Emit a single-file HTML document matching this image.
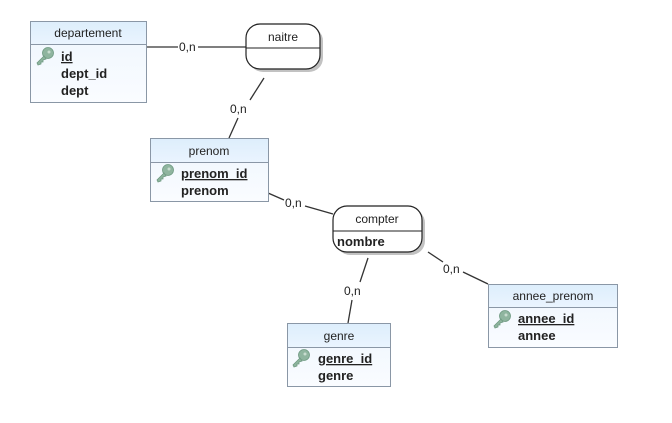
<!DOCTYPE html>
<html><head><style>body{margin:0;background:#fff}svg{display:block}</style></head><body>
<svg width="672" height="423" viewBox="0 0 672 423" xmlns="http://www.w3.org/2000/svg" font-family="Liberation Sans, Arial, sans-serif">
<defs>
<linearGradient id="hd" x1="0" y1="0" x2="0" y2="1"><stop offset="0" stop-color="#ddeefc"/><stop offset="1" stop-color="#eaf4fe"/></linearGradient>
<linearGradient id="bd" x1="0" y1="0" x2="0" y2="1"><stop offset="0" stop-color="#eef6fe"/><stop offset="1" stop-color="#fafcff"/></linearGradient>
<g id="key"><circle cx="12" cy="5" r="5.5" fill="#8fb59f" stroke="#6f9a82" stroke-width="0.8"/><circle cx="13" cy="4" r="1.5" fill="#c8dccf"/><path d="M8 8 L1 15 L2 17 L5 16 L5 14 L7 14 L7 12 L10 11 Z" fill="#8fb59f" stroke="#6f9a82" stroke-width="0.8"/></g>
</defs>
<g stroke="#333" stroke-width="1.3" fill="none">
<line x1="146" y1="47" x2="178" y2="47"/><line x1="198" y1="47" x2="246" y2="47"/>
<line x1="264" y1="78" x2="250" y2="100"/><line x1="238" y1="118" x2="229" y2="138"/>
<line x1="268" y1="193" x2="284" y2="200"/><line x1="305" y1="206" x2="333" y2="214"/>
<line x1="368" y1="258" x2="360" y2="282"/><line x1="352" y1="300" x2="348" y2="323"/>
<line x1="428" y1="252" x2="443" y2="262"/><line x1="463" y1="272" x2="488" y2="284"/>
</g>
<g font-size="12" fill="#222">
<text x="179" y="51">0,n</text><text x="230" y="113">0,n</text><text x="285" y="207">0,n</text>
<text x="344" y="295">0,n</text><text x="443" y="273">0,n</text>
</g>
<!-- naitre -->
<rect x="249" y="27" width="74" height="45" rx="14" fill="#999" opacity="0.6"/>
<rect x="246" y="24" width="74" height="45" rx="14" fill="#fff" stroke="#222" stroke-width="1.2"/>
<line x1="246" y1="48" x2="320" y2="48" stroke="#222"/>
<text x="283" y="41" font-size="12" text-anchor="middle" fill="#222">naitre</text>
<!-- compter -->
<rect x="336" y="209" width="89" height="46" rx="14" fill="#999" opacity="0.6"/>
<rect x="333" y="206" width="89" height="46" rx="14" fill="#fff" stroke="#222" stroke-width="1.2"/>
<line x1="333" y1="231" x2="422" y2="231" stroke="#222"/>
<text x="377" y="223" font-size="12" text-anchor="middle" fill="#222">compter</text>
<text x="337" y="246" font-size="13" font-weight="bold" fill="#222">nombre</text>
<!-- departement -->
<rect x="30.5" y="21.5" width="116" height="81" fill="url(#bd)" stroke="#8a97a6"/>
<rect x="30.5" y="21.5" width="116" height="23" fill="url(#hd)" stroke="#8a97a6"/>
<text x="88" y="37" font-size="12" text-anchor="middle" fill="#222">departement</text>
<use href="#key" x="36" y="48"/>
<g font-size="13" font-weight="bold" fill="#222"><text x="61" y="61" text-decoration="underline">id</text><text x="61" y="78">dept_id</text><text x="61" y="95">dept</text></g>
<!-- prenom -->
<rect x="150.5" y="138.5" width="118" height="63" fill="url(#bd)" stroke="#8a97a6"/>
<rect x="150.5" y="138.5" width="118" height="24" fill="url(#hd)" stroke="#8a97a6"/>
<text x="209" y="155" font-size="12" text-anchor="middle" fill="#222">prenom</text>
<use href="#key" x="156" y="165"/>
<g font-size="13" font-weight="bold" fill="#222"><text x="181" y="178" text-decoration="underline">prenom_id</text><text x="181" y="195">prenom</text></g>
<!-- genre -->
<rect x="287.5" y="323.5" width="103" height="63" fill="url(#bd)" stroke="#8a97a6"/>
<rect x="287.5" y="323.5" width="103" height="24" fill="url(#hd)" stroke="#8a97a6"/>
<text x="339" y="340" font-size="12" text-anchor="middle" fill="#222">genre</text>
<use href="#key" x="292" y="350"/>
<g font-size="13" font-weight="bold" fill="#222"><text x="318" y="363" text-decoration="underline">genre_id</text><text x="318" y="380">genre</text></g>
<!-- annee_prenom -->
<rect x="488.5" y="284.5" width="129" height="63" fill="url(#bd)" stroke="#8a97a6"/>
<rect x="488.5" y="284.5" width="129" height="23" fill="url(#hd)" stroke="#8a97a6"/>
<text x="553" y="300" font-size="12" text-anchor="middle" fill="#222">annee_prenom</text>
<use href="#key" x="493" y="311"/>
<g font-size="13" font-weight="bold" fill="#222"><text x="518" y="323" text-decoration="underline">annee_id</text><text x="518" y="340">annee</text></g>
</svg>
</body></html>
